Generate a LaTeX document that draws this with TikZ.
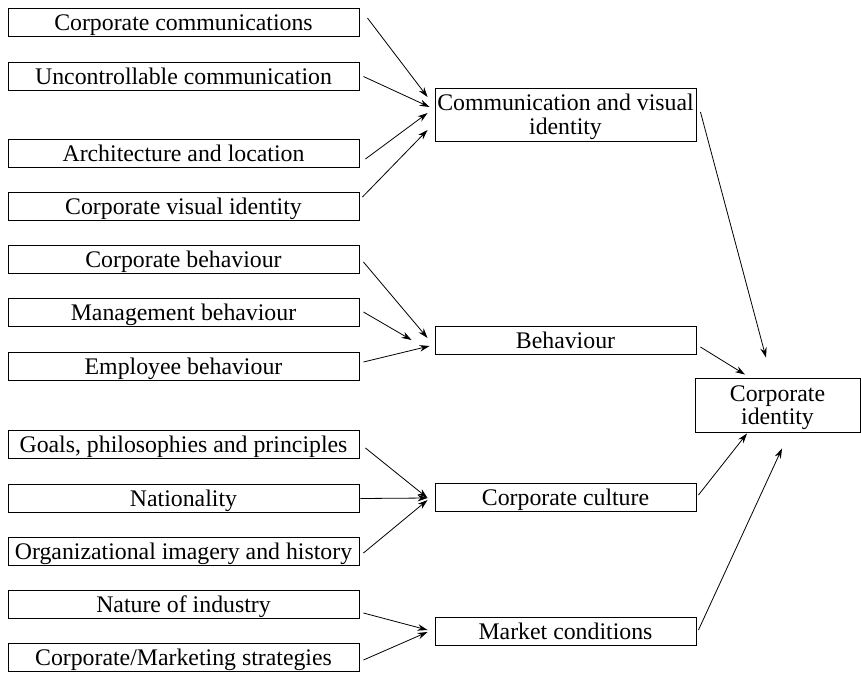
\documentclass[tikz,border=0pt]{standalone}
\usepackage{fontspec}
\setmainfont{Liberation Serif}
\usetikzlibrary{arrows.meta}
\begin{document}
\begin{tikzpicture}[x=1pt,y=-1pt,
  box/.style={draw,line width=0.9pt,inner sep=0pt,minimum height=28pt,text height=16pt,text depth=0pt,font=\fontsize{23.8}{23.3}\selectfont},
  lbox/.style={box,minimum width=351pt},
  mbox/.style={box,minimum width=261pt},
  two/.style={align=center,text height=39.3pt,text depth=0pt},
  arr/.style={line width=0.8pt,-{Stealth[length=10pt,width=6.5pt]}}]
\useasboundingbox (0,0) rectangle (861,672);
% left column
\node[lbox] (b1) at (183.5,22) {Corporate communications};
\node[lbox] (b2) at (183.5,76.5) {Uncontrollable communication};
\node[lbox] (b3) at (183.5,153) {Architecture and location};
\node[lbox] (b4) at (183.5,206) {Corporate visual identity};
\node[lbox] (b5) at (183.5,259.5) {Corporate behaviour};
\node[lbox] (b6) at (183.5,312.5) {Management behaviour};
\node[lbox] (b7) at (183.5,366) {Employee behaviour};
\node[lbox] (b8) at (183.5,444) {Goals, philosophies and principles};
\node[lbox] (b9) at (183.5,498.5) {Nationality};
\node[lbox] (b10) at (183.5,551) {Organizational imagery and history};
\node[lbox] (b11) at (183.5,604) {Nature of industry};
\node[lbox] (b12) at (183.5,657) {Corporate/Marketing strategies};
% middle column
\node[mbox,two,minimum height=53pt] (cvi) at (565.5,114.5) {Communication and visual\\identity};
\node[mbox] (beh) at (565.5,340) {Behaviour};
\node[mbox] (cul) at (565.5,497.5) {Corporate culture};
\node[mbox] (mkt) at (565.5,631.5) {Market conditions};
% right
\node[box,two,minimum width=165pt,minimum height=54pt] (ci) at (777.5,405) {Corporate\\identity};
% arrows
\draw[arr] ([xshift=8pt,yshift=4pt]b1.east) -- ([xshift=-7pt,yshift=17.5pt]cvi.west);
\draw[arr] ([xshift=4pt,yshift=0pt]b2.east) -- ([xshift=-5pt,yshift=7.5pt]cvi.west);
\draw[arr] ([xshift=6pt,yshift=-6pt]b3.east) -- ([xshift=-7pt,yshift=1.5pt]cvi.west);
\draw[arr] ([xshift=3pt,yshift=9pt]b4.east) -- ([xshift=-7pt,yshift=-15.5pt]cvi.west);
\draw[arr] ([xshift=4pt,yshift=2.5pt]cvi.east) -- ([xshift=-11.5pt,yshift=20pt]ci.north);
\draw[arr] ([xshift=4pt,yshift=-2.5pt]b5.east) -- ([xshift=-7pt,yshift=2pt]beh.west);
\draw[arr] ([xshift=4pt,yshift=0.5pt]b6.east) -- ([xshift=-23pt,yshift=0pt]beh.west);
\draw[arr] ([xshift=4pt,yshift=4pt]b7.east) -- ([xshift=-5pt,yshift=-6pt]beh.west);
\draw[arr] ([xshift=4pt,yshift=-7pt]beh.east) -- ([xshift=-32.5pt,yshift=3pt]ci.north);
\draw[arr] ([xshift=6pt,yshift=-4pt]b8.east) -- ([xshift=-7pt,yshift=-0.5pt]cul.west);
\draw[arr] ([xshift=1pt,yshift=0pt]b9.east) -- ([xshift=-7pt,yshift=-0.5pt]cul.west);
\draw[arr] ([xshift=4pt,yshift=-2pt]b10.east) -- ([xshift=-7pt,yshift=-2.5pt]cul.west);
\draw[arr] ([xshift=2pt,yshift=2.5pt]cul.east) -- ([xshift=-30.5pt,yshift=-1pt]ci.south);
\draw[arr] ([xshift=4pt,yshift=-9pt]b11.east) -- ([xshift=-7pt,yshift=1.5pt]mkt.west);
\draw[arr] ([xshift=4pt,yshift=-3pt]b12.east) -- ([xshift=-7pt,yshift=-0.5pt]mkt.west);
\draw[arr] ([xshift=2pt,yshift=1.5pt]mkt.east) -- ([xshift=4.5pt,yshift=-16pt]ci.south);
\end{tikzpicture}
\end{document}
